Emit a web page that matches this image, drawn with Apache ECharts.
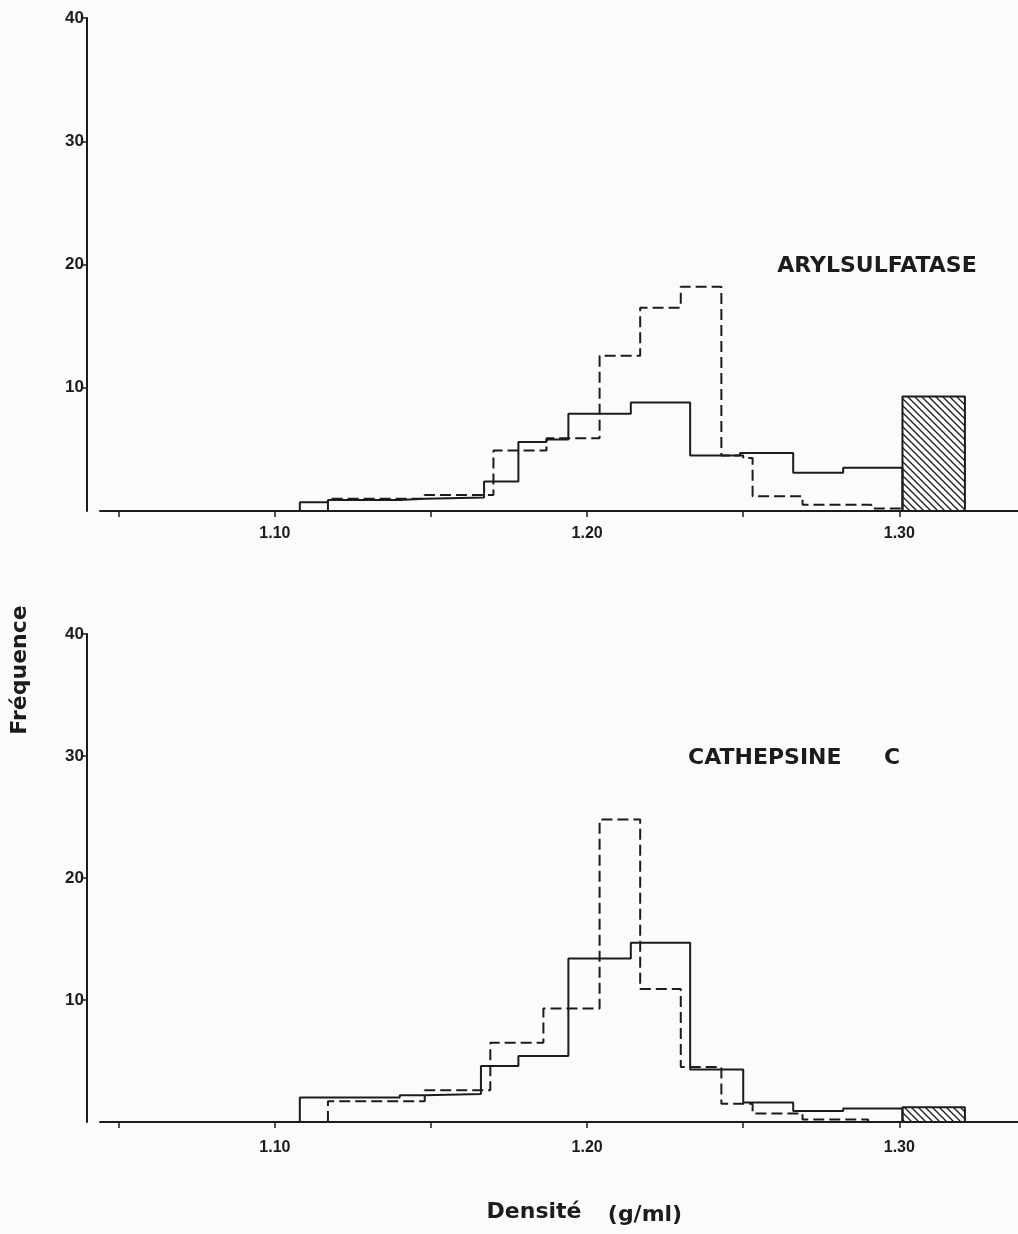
<!DOCTYPE html>
<html>
<head>
<meta charset="utf-8">
<script src="https://cdn.jsdelivr.net/npm/echarts@6/dist/echarts.min.js"></script>
<style>
  html, body { margin: 0; padding: 0; background: #fbfbfb; }
  #main { width: 1018px; height: 1234px; }
</style>
</head>
<body>
<div id="main"></div>
<script>
// axes
var xMin = 1.044, xMax = 1.338;
var xTickValues = [1.05, 1.10, 1.15, 1.20, 1.25, 1.30];
var xLabelValues = [1.10, 1.20, 1.30];
var yTickValues = [10, 20, 30, 40];

// ARYLSULFATASE (top) - bin edges in g/ml, heights = frequency
var arylSolidEdges = [1.108, 1.117, 1.140, 1.148, 1.167, 1.178, 1.187, 1.194, 1.214, 1.233, 1.249, 1.266, 1.282, 1.301];
var arylSolidFreq  = [0.7, 0.9, 1.0, 1.1, 2.4, 5.6, 5.8, 7.9, 8.8, 4.5, 4.7, 3.1, 3.5];
var arylDashEdges  = [1.117, 1.148, 1.170, 1.187, 1.204, 1.217, 1.230, 1.243, 1.250, 1.253, 1.269, 1.291, 1.301];
var arylDashFreq   = [1.0, 1.3, 4.9, 5.9, 12.6, 16.5, 18.2, 4.5, 4.3, 1.2, 0.5, 0.2];
var arylHatchEdges = [1.301, 1.321];
var arylHatchFreq  = [9.3];

// CATHEPSINE C (bottom)
var cathSolidEdges = [1.108, 1.140, 1.148, 1.166, 1.178, 1.194, 1.214, 1.233, 1.250, 1.266, 1.282, 1.301];
var cathSolidFreq  = [2.0, 2.2, 2.3, 4.6, 5.4, 13.4, 14.7, 4.3, 1.6, 0.9, 1.1];
var cathDashEdges  = [1.117, 1.148, 1.169, 1.186, 1.204, 1.217, 1.230, 1.243, 1.253, 1.269, 1.290];
var cathDashFreq   = [1.7, 2.6, 6.5, 9.3, 24.8, 10.9, 4.5, 1.5, 0.7, 0.2];
var cathHatchEdges = [1.301, 1.321];
var cathHatchFreq  = [1.2];

var ink = '#1c1c1c';

// histogram outline: up at the first edge, across each bin, down at the last edge
function stepPoints(edges, freq) {
    var pts = [[edges[0], 0]];
    freq.forEach(function (f, i) {
        pts.push([edges[i], f], [edges[i + 1], f]);
    });
    pts.push([edges[edges.length - 1], 0]);
    return pts;
}

// "\\\\" hatching tile
function hatchTile() {
    var s = 7;
    var c = document.createElement('canvas');
    c.width = s; c.height = s;
    var ctx = c.getContext('2d');
    ctx.strokeStyle = ink;
    ctx.lineWidth = 1.3;
    ctx.beginPath();
    ctx.moveTo(-1, -1); ctx.lineTo(s + 1, s + 1);
    ctx.moveTo(s - 1, -1); ctx.lineTo(s + 1, 1);
    ctx.moveTo(-1, s - 1); ctx.lineTo(1, s + 1);
    ctx.stroke();
    return c;
}
var hatch = { image: hatchTile(), repeat: 'repeat' };

function xAxisOf(idx, margin) {
    return {
        type: 'value', gridIndex: idx, min: xMin, max: xMax,
        axisLine: { show: true, lineStyle: { color: ink, width: 2 } },
        axisTick: { show: true, length: 6, customValues: xTickValues, lineStyle: { color: ink, width: 1.5 } },
        axisLabel: {
            customValues: xLabelValues, margin: margin, color: ink,
            fontFamily: 'Liberation Sans', fontSize: 16, fontWeight: 'bold',
            formatter: function (v) { return v.toFixed(2); }
        },
        splitLine: { show: false }
    };
}

function yAxisOf(idx) {
    return {
        type: 'value', gridIndex: idx, min: 0, max: 40, interval: 10, offset: 13,
        axisLine: { show: true, lineStyle: { color: ink, width: 2 } },
        axisTick: { show: true, length: 6, customValues: yTickValues, lineStyle: { color: ink, width: 1.5 } },
        axisLabel: {
            customValues: yTickValues, margin: 3, color: ink,
            fontFamily: 'Liberation Sans', fontSize: 17, fontWeight: 'bold'
        },
        splitLine: { show: false }
    };
}

function stepSeries(idx, edges, freq, dashed) {
    return {
        type: 'line', xAxisIndex: idx, yAxisIndex: idx,
        data: stepPoints(edges, freq),
        symbol: 'none', silent: true,
        lineStyle: { color: ink, width: 2, type: dashed ? [11, 5] : 'solid' }
    };
}

function hatchSeries(idx, edges, freq) {
    return {
        type: 'line', xAxisIndex: idx, yAxisIndex: idx,
        data: stepPoints(edges, freq),
        symbol: 'none', silent: true,
        lineStyle: { color: ink, width: 2 },
        areaStyle: { color: hatch, opacity: 1 }
    };
}

var labelFont = { fontFamily: 'DejaVu Sans', fontWeight: 'bold', fill: ink };

var option = {
    animation: false,
    backgroundColor: '#fbfbfb',
    grid: [
        { left: 100, top: 18, width: 918, height: 493 },
        { left: 100, top: 634, width: 918, height: 488 }
    ],
    xAxis: [xAxisOf(0, 15), xAxisOf(1, 18)],
    yAxis: [yAxisOf(0), yAxisOf(1)],
    series: [
        stepSeries(0, arylSolidEdges, arylSolidFreq, false),
        stepSeries(0, arylDashEdges, arylDashFreq, true),
        hatchSeries(0, arylHatchEdges, arylHatchFreq),
        stepSeries(1, cathSolidEdges, cathSolidFreq, false),
        stepSeries(1, cathDashEdges, cathDashFreq, true),
        hatchSeries(1, cathHatchEdges, cathHatchFreq)
    ],
    graphic: {
        elements: [
            { type: 'text', x: 877, y: 266, style: Object.assign({ text: 'ARYLSULFATASE', fontSize: 22, align: 'center', verticalAlign: 'middle' }, labelFont) },
            { type: 'text', x: 688, y: 758, style: Object.assign({ text: 'CATHEPSINE', fontSize: 22, align: 'left', verticalAlign: 'middle' }, labelFont) },
            { type: 'text', x: 892, y: 758, style: Object.assign({ text: 'C', fontSize: 22, align: 'center', verticalAlign: 'middle' }, labelFont) },
            { type: 'text', x: 20, y: 670, rotation: Math.PI / 2, style: Object.assign({ text: 'Fréquence', fontSize: 22, align: 'center', verticalAlign: 'middle' }, labelFont) },
            { type: 'text', x: 534, y: 1212, style: Object.assign({ text: 'Densité', fontSize: 22, align: 'center', verticalAlign: 'middle' }, labelFont) },
            { type: 'text', x: 645, y: 1215, style: Object.assign({ text: '(g/ml)', fontSize: 22, align: 'center', verticalAlign: 'middle' }, labelFont) }
        ]
    }
};

echarts.init(document.getElementById('main'), null, { renderer: 'canvas' }).setOption(option);
</script>
</body>
</html>
